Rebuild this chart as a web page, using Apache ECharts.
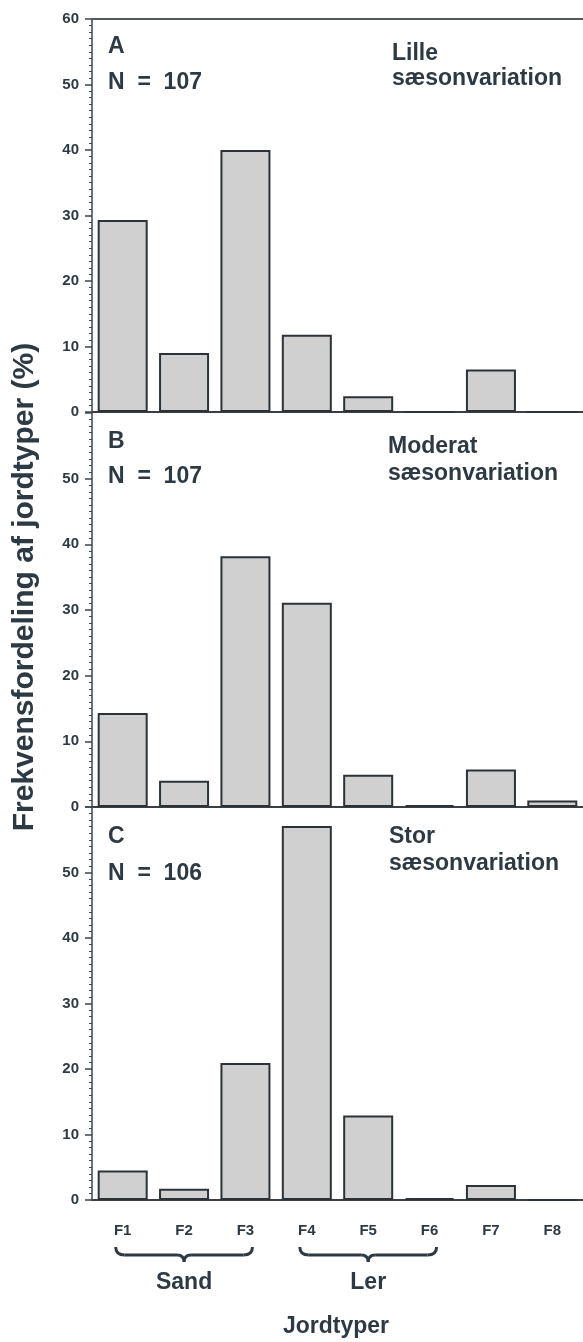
<!DOCTYPE html>
<html>
<head>
<meta charset="utf-8">
<script src="https://cdn.jsdelivr.net/npm/echarts@6/dist/echarts.min.js"></script>
<style>
  html, body { margin: 0; padding: 0; background: #ffffff; }
  #chart { width: 583px; height: 1342px; }
</style>
</head>
<body>
<div id="chart"></div>
<script>
// Soil type categories on the shared x axis
const soilTypes = ['F1', 'F2', 'F3', 'F4', 'F5', 'F6', 'F7', 'F8'];

// Frequency distribution (%) of soil types per seasonal-variation class
const smallVariation    = [29.3, 9.0, 40.0, 11.8, 2.4, 0, 6.5, 0];
const moderateVariation = [14.3, 4.0, 38.2, 31.1, 4.9, 0.3, 5.7, 1.0];
const largeVariation    = [4.5, 1.7, 20.9, 57.1, 12.9, 0.3, 2.3, 0];

// Panel annotations
const panelLetters = ['A', 'B', 'C'];
const sampleSizes = [107, 107, 106];
const variationNames = ['Lille', 'Moderat', 'Stor'];
const variationWord = 'sæsonvariation';

// Y axis range and tick step (same for every panel)
const yMin = 0, yMax = 60, yStep = 10;

// Soil groups marked with braces under the axis
const groupNames = ['Sand', 'Ler'];
const groupFrom = ['F1', 'F4'];
const groupTo = ['F3', 'F6'];

const yTitle = 'Frekvensfordeling af jordtyper (%)';
const xTitle = 'Jordtyper';

const panelValues = [smallVariation, moderateVariation, largeVariation];

const ink = '#2d3a44';
const barFill = '#d0d0d0';
const barEdge = '#2b3338';
const sansBold = "'Liberation Sans', Arial, Helvetica, sans-serif";

// Stacked panel layout
const gridLeft = 92, gridWidth = 494;
const gridTops = [19, 413, 807];
const gridHeights = [393, 394, 393];

const chart = echarts.init(document.getElementById('chart'), null, { renderer: 'canvas' });

const grids = gridTops.map((t, i) => ({ left: gridLeft, width: gridWidth, top: t, height: gridHeights[i] }));

const xAxes = panelValues.map((_, i) => ({
  type: 'category',
  gridIndex: i,
  data: soilTypes,
  boundaryGap: true,
  axisLine: { show: true, lineStyle: { color: '#3a3f44', width: 2 } },
  axisTick: { show: false },
  axisLabel: {
    show: i === 2,
    margin: 23,
    color: ink,
    fontFamily: sansBold,
    fontWeight: 'bold',
    fontSize: 15
  },
  splitLine: { show: false }
}));
// frame line along the top of the first panel
xAxes.push({
  type: 'category',
  gridIndex: 0,
  position: 'top',
  data: soilTypes,
  axisLine: { show: true, lineStyle: { color: '#55595c', width: 2 } },
  axisTick: { show: false },
  axisLabel: { show: false },
  splitLine: { show: false }
});

const yAxes = panelValues.map((_, i) => ({
  type: 'value',
  gridIndex: i,
  min: yMin,
  max: yMax,
  interval: yStep,
  axisLine: { show: true, lineStyle: { color: '#3a4650', width: 1.5 } },
  axisTick: { show: true, length: 7, lineStyle: { color: '#3a4650', width: 1.5 } },
  minorTick: { show: true, splitNumber: 10, length: 3, lineStyle: { color: '#3a4650', width: 1 } },
  splitLine: { show: false },
  axisLabel: {
    showMaxLabel: i === 0,
    margin: 13,
    color: ink,
    fontFamily: sansBold,
    fontWeight: 'bold',
    fontSize: 15
  }
}));

const series = panelValues.map((vals, i) => ({
  type: 'bar',
  xAxisIndex: i,
  yAxisIndex: i,
  data: vals,
  barWidth: 50,
  itemStyle: { color: barFill, borderColor: barEdge, borderWidth: 2 },
  emphasis: { disabled: true },
  silent: true
}));

chart.setOption({
  animation: false,
  backgroundColor: '#ffffff',
  grid: grids,
  xAxis: xAxes,
  yAxis: yAxes,
  series: series
});

// Text annotations and group braces
function txt(text, x, y, size, align, extra) {
  return Object.assign({
    type: 'text',
    x: x, y: y,
    silent: true,
    style: {
      text: text,
      fill: ink,
      font: 'bold ' + size + 'px ' + sansBold,
      textAlign: align || 'left',
      textVerticalAlign: 'middle'
    }
  }, extra || {});
}
function curve(x1, y1, cx, cy, x2, y2) {
  return {
    type: 'bezierCurve', silent: true,
    shape: { x1: x1, y1: y1, cpx1: cx, cpy1: cy, x2: x2, y2: y2 },
    style: { fill: null, stroke: ink, lineWidth: 3 }
  };
}
function seg(x1, y1, x2, y2) {
  return {
    type: 'line', silent: true,
    shape: { x1: x1, y1: y1, x2: x2, y2: y2 },
    style: { stroke: ink, lineWidth: 3 }
  };
}

const graphics = [];
const letterY = [47, 442, 837];
const nY = [83, 477, 874];
const nameY = [54, 447, 837];
const wordY = [79, 474, 864];
const rightX = [392, 388, 389];
panelLetters.forEach((L, i) => {
  graphics.push(txt(L, 108, letterY[i], 23));
  graphics.push(txt('N  =  ' + sampleSizes[i], 108, nY[i], 23));
  graphics.push(txt(variationNames[i], rightX[i], nameY[i], 23));
  graphics.push(txt(variationWord, rightX[i], wordY[i], 23));
});

// Y axis title, reading bottom to top
graphics.push(txt(yTitle, 25, 587, 30, 'center', { rotation: Math.PI / 2 }));

// Braces under the category labels
const braceTop = 1247, braceMid = 1255, braceTip = 1262;
groupNames.forEach((g, k) => {
  const xa = chart.convertToPixel({ xAxisIndex: 2 }, groupFrom[k]) - 7;
  const xb = chart.convertToPixel({ xAxisIndex: 2 }, groupTo[k]) + 7;
  const xc = (xa + xb) / 2;
  graphics.push(curve(xa, braceTop, xa, braceMid, xa + 9, braceMid));
  graphics.push(seg(xa + 9, braceMid, xc - 7, braceMid));
  graphics.push(curve(xc - 7, braceMid, xc, braceMid, xc, braceTip));
  graphics.push(curve(xc, braceTip, xc, braceMid, xc + 7, braceMid));
  graphics.push(seg(xc + 7, braceMid, xb - 9, braceMid));
  graphics.push(curve(xb - 9, braceMid, xb, braceMid, xb, braceTop));
  graphics.push(txt(g, xc, 1283, 23, 'center'));
});

graphics.push(txt(xTitle, gridLeft + 244, 1327, 23, 'center'));

chart.setOption({ graphic: graphics });
</script>
</body>
</html>
